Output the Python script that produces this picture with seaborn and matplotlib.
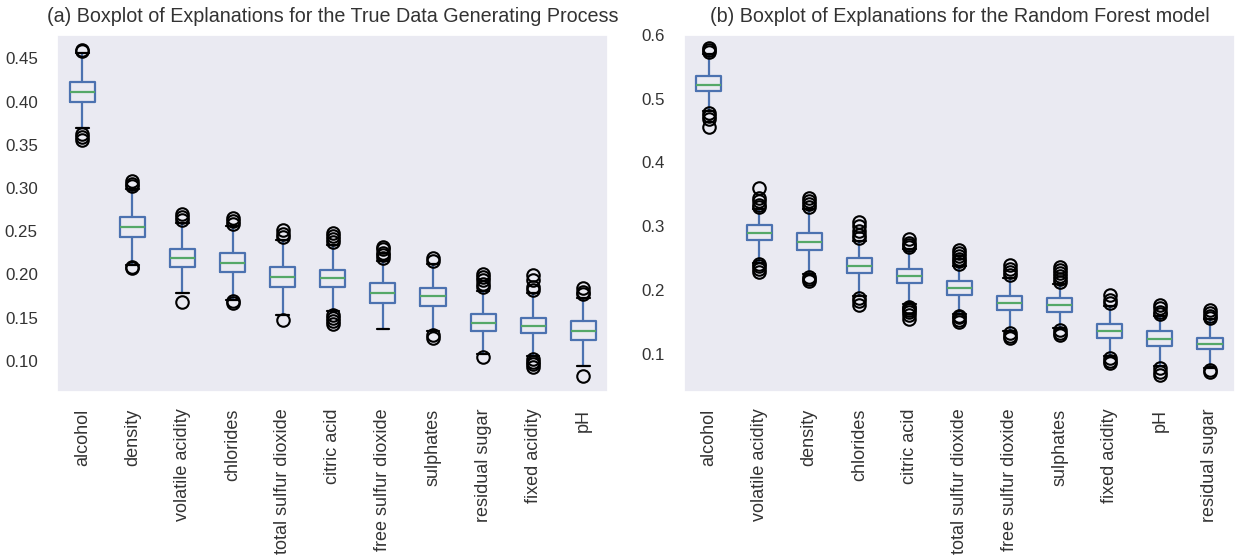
import matplotlib
matplotlib.use("Agg")
import matplotlib.pyplot as plt
import seaborn as sns

# ---- Panel (a): explanations for the true data generating process ----
features_a = ["alcohol", "density", "volatile acidity", "chlorides",
              "total sulfur dioxide", "citric acid", "free sulfur dioxide",
              "sulphates", "residual sugar", "fixed acidity", "pH"]
median_a = [0.4115, 0.255, 0.219, 0.2135, 0.1976, 0.1957, 0.1784, 0.1749, 0.144, 0.1403, 0.1345]
q1_a = [0.400, 0.2434, 0.2088, 0.203, 0.186, 0.1857, 0.1665, 0.163, 0.1345, 0.1318, 0.1246]
q3_a = [0.423, 0.2665, 0.230, 0.2245, 0.209, 0.2057, 0.1903, 0.1846, 0.1538, 0.150, 0.146]
whislo_a = [0.369, 0.2115, 0.179, 0.171, 0.153, 0.1576, 0.1365, 0.1345, 0.1076, 0.1056, 0.094]
whishi_a = [0.456, 0.299, 0.260, 0.2557, 0.2395, 0.2345, 0.2153, 0.2123, 0.181, 0.179, 0.173]
fliers_a = [
    [0.458, 0.460, 0.362, 0.359, 0.356],
    [0.302, 0.305, 0.308, 0.209, 0.207],
    [0.263, 0.267, 0.270, 0.168],
    [0.258, 0.262, 0.265, 0.169, 0.167],
    [0.243, 0.247, 0.251, 0.147],
    [0.238, 0.241, 0.244, 0.248, 0.153, 0.150, 0.146, 0.143],
    [0.219, 0.222, 0.225, 0.229, 0.232],
    [0.216, 0.219, 0.130, 0.127],
    [0.185, 0.189, 0.193, 0.197, 0.200, 0.104],
    [0.182, 0.185, 0.193, 0.199, 0.102, 0.099, 0.096, 0.093],
    [0.177, 0.180, 0.1845, 0.0826],
]

# ---- Panel (b): explanations for the random forest model ----
features_b = ["alcohol", "volatile acidity", "density", "chlorides",
              "citric acid", "total sulfur dioxide", "free sulfur dioxide",
              "sulphates", "fixed acidity", "pH", "residual sugar"]
median_b = [0.522, 0.290, 0.2758, 0.2376, 0.2214, 0.2036, 0.1795, 0.177, 0.1355, 0.1224, 0.1156]
q1_b = [0.5115, 0.2785, 0.2627, 0.226, 0.2104, 0.192, 0.1685, 0.166, 0.125, 0.112, 0.1067]
q3_b = [0.535, 0.302, 0.2894, 0.250, 0.2324, 0.214, 0.1905, 0.188, 0.146, 0.1355, 0.125]
whislo_b = [0.481, 0.243, 0.2245, 0.190, 0.1774, 0.1617, 0.1355, 0.1408, 0.096, 0.0805, 0.078]
whishi_b = [0.570, 0.3266, 0.3266, 0.2769, 0.2638, 0.2376, 0.2193, 0.2088, 0.1747, 0.159, 0.1538]
fliers_b = [
    [0.573, 0.576, 0.579, 0.477, 0.473, 0.469, 0.456],
    [0.330, 0.334, 0.339, 0.344, 0.360, 0.241, 0.237, 0.233, 0.228],
    [0.330, 0.335, 0.340, 0.344, 0.221, 0.217, 0.214],
    [0.281, 0.286, 0.293, 0.300, 0.306, 0.187, 0.183, 0.176],
    [0.267, 0.270, 0.274, 0.280, 0.174, 0.171, 0.168, 0.165, 0.161, 0.154],
    [0.241, 0.245, 0.249, 0.254, 0.258, 0.262, 0.160, 0.157, 0.153, 0.150],
    [0.223, 0.228, 0.233, 0.240, 0.132, 0.128, 0.125],
    [0.213, 0.218, 0.222, 0.226, 0.231, 0.236, 0.137, 0.133, 0.130],
    [0.180, 0.185, 0.192, 0.093, 0.089, 0.086],
    [0.162, 0.166, 0.171, 0.177, 0.077, 0.072, 0.067],
    [0.156, 0.160, 0.164, 0.168, 0.075, 0.072],
]

titles = ["(a) Boxplot of Explanations for the True Data Generating Process",
          "(b) Boxplot of Explanations for the Random Forest model"]

sns.set_theme(style="dark")
plt.rcParams["font.family"] = ["Liberation Sans", "DejaVu Sans"]

BLUE = "#4C72B0"
GREEN = "#55A868"
TEXT = "#333333"


def make_stats(labels, med, q1, q3, lo, hi, fl):
    return [dict(label=l, med=m, q1=a, q3=b, whislo=w0, whishi=w1, fliers=f)
            for l, m, a, b, w0, w1, f in zip(labels, med, q1, q3, lo, hi, fl)]


panels = [
    make_stats(features_a, median_a, q1_a, q3_a, whislo_a, whishi_a, fliers_a),
    make_stats(features_b, median_b, q1_b, q3_b, whislo_b, whishi_b, fliers_b),
]

fig, axes = plt.subplots(1, 2, figsize=(12.44, 5.6), dpi=100)
fig.subplots_adjust(left=0.046, right=0.9928, top=0.9375, bottom=0.3, wspace=0.137)

for ax, stats, title in zip(axes, panels, titles):
    ax.bxp(stats, widths=0.5, showfliers=True,
           boxprops=dict(color=BLUE, linewidth=1.6),
           whiskerprops=dict(color=BLUE, linewidth=1.6),
           capprops=dict(color="black", linewidth=1.6),
           medianprops=dict(color=GREEN, linewidth=1.6),
           flierprops=dict(marker="o", markerfacecolor="none",
                           markeredgecolor="black", markersize=9,
                           markeredgewidth=1.5))
    ax.set_title(title, fontsize=14.2, color=TEXT, pad=9)
    ax.tick_params(axis="x", labelrotation=90, labelsize=13, colors=TEXT, pad=6)
    ax.tick_params(axis="y", labelsize=12.2, colors=TEXT, pad=8)
    ax.grid(False)

axes[0].set_ylim(0.064, 0.477)
axes[0].set_yticks([0.10, 0.15, 0.20, 0.25, 0.30, 0.35, 0.40, 0.45])
axes[0].set_yticklabels([f"{v:.2f}" for v in axes[0].get_yticks()])
axes[1].set_ylim(0.040, 0.600)
axes[1].set_yticks([0.1, 0.2, 0.3, 0.4, 0.5, 0.6])
axes[1].set_yticklabels([f"{v:.1f}" for v in axes[1].get_yticks()])

fig.savefig("out.png", dpi=100)
